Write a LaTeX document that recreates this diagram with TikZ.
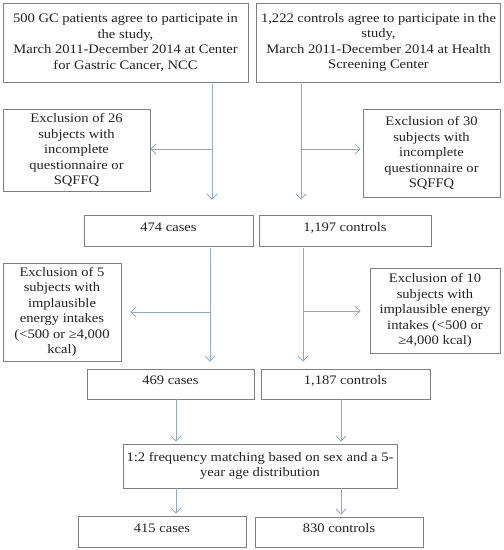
\documentclass[tikz,border=0pt]{standalone}
\usepackage{fontspec}
\setmainfont[FakeStretch=1.12]{Liberation Serif}
\usetikzlibrary{arrows.meta,calc}
\definecolor{boxgray}{HTML}{7F7F7F}
\definecolor{arrowblue}{HTML}{8FA9C9}
\definecolor{txt}{HTML}{222222}
\begin{document}
\begin{tikzpicture}[x=1pt,y=-1pt,
  box/.style={draw=boxgray, line width=0.9pt, align=center, inner sep=0pt,
    font=\fontsize{13}{15.5}\selectfont, text=txt},
  single/.style={box, text height=9pt, text depth=7.4pt},
  conn/.style={draw=arrowblue, line width=0.9pt},
  arr/.style={conn, -{Straight Barb[length=5pt,width=10pt]}}]
\useasboundingbox (0,0) rectangle (504,550);
% row 1
\node[box, minimum width=245pt, minimum height=79pt] (a) at (125.5,42.5)
  {500 GC patients agree to participate in\\ the study,\\ March 2011-December 2014 at Center\\ for Gastric Cancer, NCC};
\node[box, minimum width=244pt, minimum height=79pt] (b) at (378.5,42.5)
  {1,222 controls agree to participate in the\\ study,\\ March 2011-December 2014 at Health\\ Screening Center};
% exclusions 1
\node[box, minimum width=147pt, minimum height=82pt] (e1) at (76.5,150)
  {Exclusion of 26\\ subjects with\\ incomplete\\ questionnaire or\\ SQFFQ};
\node[box, minimum width=137pt, minimum height=88pt] (e2) at (431.5,153)
  {Exclusion of 30\\ subjects with\\ incomplete\\ questionnaire or\\ SQFFQ};
% row 2
\node[single, minimum width=169pt, minimum height=31pt] (c474) at (168.5,230.5) {474 cases};
\node[single, minimum width=172pt, minimum height=31pt] (c1197) at (345,230.5) {1,197 controls};
% exclusions 2
\node[box, minimum width=118pt, minimum height=98pt] (e3) at (62,312)
  {Exclusion of 5\\ subjects with\\ implausible\\ energy intakes\\ (<500 or ≥4,000\\ kcal)};
\node[box, minimum width=130pt, minimum height=85pt] (e4) at (435,310.5)
  {Exclusion of 10\\ subjects with\\ implausible energy\\ intakes (<500 or\\ ≥4,000 kcal)};
% row 3
\node[single, minimum width=167pt, minimum height=30pt] (c469) at (170.5,384) {469 cases};
\node[single, minimum width=169pt, minimum height=30pt] (c1187) at (345.5,384) {1,187 controls};
% matching
\node[box, minimum width=274pt, minimum height=44pt] (m) at (260,466)
  {1:2 frequency matching based on sex and a 5-\\ year age distribution};
% row 4
\node[single, minimum width=168pt, minimum height=31pt] (c415) at (162,531.5) {415 cases};
\node[single, minimum width=168pt, minimum height=30pt] (c830) at (339,532) {830 controls};
% branch coordinates
\coordinate (j1) at (212,149);
\coordinate (j2) at (301,149);
\coordinate (j3) at (210,312);
\coordinate (j4) at (303,311);
\coordinate (k1) at (176,0);
\coordinate (k2) at (341,0);
% connectors stage 1
\draw[arr, shorten >=15pt] ([yshift=-2pt]a.south -| j1) -- (j1 |- c474.north);
\draw[arr, shorten >=15pt] ([yshift=-2pt]b.south -| j2) -- (j2 |- c1197.north);
\draw[arr] (j1) -- (e1.east |- j1);
\draw[arr] (j2) -- ([xshift=-2pt]e2.west |- j2);
% stage 2
\draw[arr, shorten >=7pt] ([yshift=-2pt]c474.south -| j3) -- (j3 |- c469.north);
\draw[arr, shorten >=7pt] ([yshift=-2pt]c1197.south -| j4) -- (j4 |- c1187.north);
\draw[arr] (j3) -- ([xshift=9pt]e3.east |- j3);
\draw[arr] (j4) -- ([xshift=-9pt]e4.west |- j4);
% stage 3
\draw[arr, shorten >=2pt] (c469.south -| k1) -- (m.north -| k1);
\draw[arr, shorten >=2pt] (c1187.south -| k2) -- (m.north -| k2);
\draw[arr, shorten >=2pt] (m.south -| k1) -- (c415.north -| k1);
\draw[arr, shorten >=2pt] (m.south -| k2) -- (c830.north -| k2);
\end{tikzpicture}
\end{document}
